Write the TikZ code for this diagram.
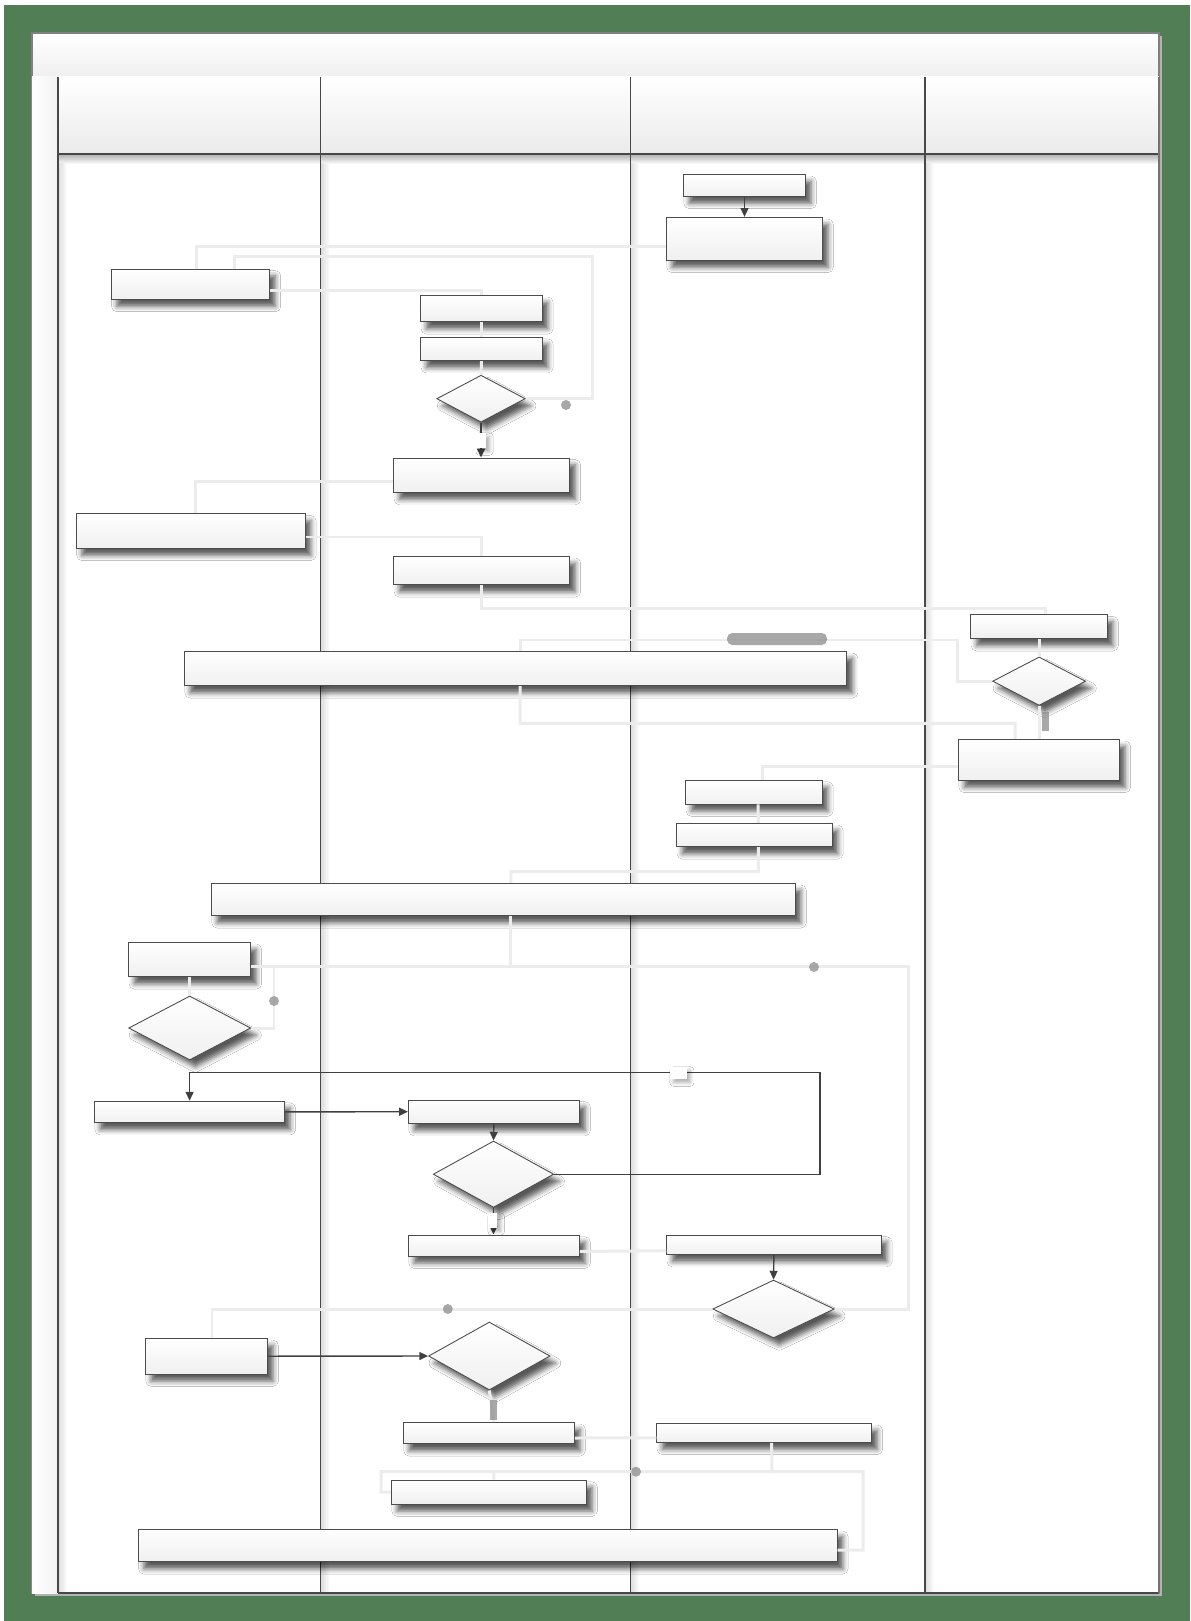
\documentclass[tikz,border=0pt]{standalone}
\usepackage{tikz}
\usetikzlibrary{shapes.geometric, arrows.meta, shadows.blur}

\definecolor{frame}{RGB}{81,126,85}
\definecolor{lane}{RGB}{72,72,72}
\definecolor{wire}{RGB}{236,236,236}

\tikzset{
  sz/.style 2 args={minimum width=#1cm, minimum height=#2cm},
  box/.style={draw=black!70, line width=0.5pt, top color=white, bottom color=black!6, inner sep=0pt,
    blur shadow={shadow xshift=3.2pt, shadow yshift=-4pt, shadow blur radius=3pt, shadow opacity=65}},
  dec/.style={box, diamond},
  flow/.style={draw=black!75, line width=0.8pt, ->},
  faint/.style={draw=wire, line width=1.7pt},
  lbl/.style={fill=white, inner sep=0pt,
    blur shadow={shadow xshift=2pt, shadow yshift=-2pt, shadow blur radius=2pt, shadow opacity=30}},
  blob/.style={fill=black!45, opacity=0.75},
}

\begin{document}
\begin{tikzpicture}[x=0.02cm, y=-0.02cm, >={Triangle[length=5pt,width=4.5pt]}]
\useasboundingbox (0,0) rectangle (1190,1621);

% green frame and white sheet
\fill[frame] (4,5) rectangle (1190,1621);
\fill[black!30] (35,36) rectangle (1162,1596);
\filldraw[fill=white, draw=black!45, line width=0.6pt] (32,33) rectangle (1159,1593);
% title bar
\shade[top color=white, bottom color=black!6] (32,33) rectangle (1159,77);
\draw[black!50, line width=0.6pt] (32,33) rectangle (1159,77);
% left strip
\shade[left color=white, right color=black!5] (32,77) rectangle (58,1593);
% lane headers
\shade[top color=white, bottom color=black!8] (58,77) rectangle (1159,154);
\shade[top color=black!30, bottom color=white] (58,154.5) rectangle (1159,164);
% lane dividers
\foreach \x in {58,320.7,630.2,924.9} {
  \shade[left color=black!13, right color=white] (\x+0.5,164) rectangle (\x+9,1593);
  \draw[lane, line width=0.7pt] (\x,77) -- (\x,1593);
}
\draw[lane, line width=0.7pt] (58,154) -- (1159,154);
\draw[lane, line width=0.7pt] (58,1593) -- (1159,1593);
\draw[black!55, line width=0.7pt] (1159,77) -- (1159,1593);

% lane 3 start
\node[box, sz={2.44}{0.44}] (e1) at (744.5,185.3) {};
\node[box, sz={3.12}{0.86}] (f1) at (744.4,238.8) {};
% first block
\node[box, sz={3.17}{0.61}] (a1) at (190.6,284.2) {};
\node[box, sz={2.43}{0.53}] (b1) at (481.5,308.5) {};
\node[box, sz={2.43}{0.47}] (c1) at (481.5,348.9) {};
\node[dec, sz={1.77}{0.94}] (d1) at (481,398.7) {};
\node[box, sz={3.52}{0.69}] (g1) at (481.8,475.2) {};
\node[box, sz={4.58}{0.69}] (h1) at (190.8,531) {};
\node[box, sz={3.52}{0.57}] (i1) at (481.8,570.5) {};
% lane 4
\node[box, sz={2.73}{0.48}] (k1) at (1039.1,626.7) {};
\node[dec, sz={1.86}{0.97}] (d2) at (1039.1,681.2) {};
\node[box, sz={3.22}{0.82}] (l1) at (1039.1,759.8) {};
\node[box, sz={13.25}{0.69}] (j1) at (515.7,668.5) {};
% back to lane 3
\node[box, sz={2.73}{0.48}] (m1) at (754,792) {};
\node[box, sz={3.11}{0.47}] (n1) at (754.4,835) {};
\node[box, sz={11.68}{0.65}] (o1) at (503.4,899.5) {};
% lower loop
\node[box, sz={2.44}{0.69}] (p1) at (189.7,959.5) {};
\node[dec, sz={2.44}{1.28}] (d3) at (189.7,1028) {};
\node[box, sz={3.80}{0.43}] (q1) at (189.6,1111.9) {};
\node[box, sz={3.42}{0.47}] (r1) at (493.9,1111.7) {};
\node[dec, sz={2.41}{1.33}] (d4) at (493.5,1174.2) {};
\node[box, sz={3.42}{0.42}] (s1) at (493.9,1245.5) {};
\node[box, sz={4.29}{0.39}] (x1) at (773.9,1244.7) {};
\node[dec, sz={2.43}{1.16}] (d6) at (773.5,1309) {};
\node[box, sz={2.44}{0.71}] (t1) at (206.5,1356.2) {};
\node[dec, sz={2.43}{1.36}] (d5) at (489.3,1356) {};
\node[box, sz={3.42}{0.43}] (u1) at (488.9,1433) {};
\node[box, sz={4.30}{0.38}] (y1) at (764.2,1432.8) {};
\node[box, sz={3.90}{0.48}] (v1) at (488.9,1492) {};
\node[box, sz={13.98}{0.65}] (w1) at (487.7,1545.5) {};

% faint connectors
\draw[faint] ([yshift=-0.16cm]f1.west) -| ([xshift=0.11cm]a1.north);
\draw[faint] (d1.east) -- (592,398.7) -- (592,256.7) -| ([xshift=0.87cm]a1.north);
\draw[faint] ([yshift=-0.12cm]a1.east) -| (b1.north);
\draw[faint] (b1.south) -- (c1.north);
\draw[faint] (c1.south) -- (d1.north);
\draw[faint] ([yshift=-0.12cm]g1.west) -| ([xshift=0.1cm]h1.north);
\draw[faint] ([yshift=-0.12cm]h1.east) -| (i1.north);
\draw[faint] (i1.south) -- ++(0,23.6) -| ([xshift=0.12cm]k1.north);
\draw[faint] ([xshift=0.09cm]j1.north) |- (957,640) |- (d2.west);
\draw[faint] (k1.south) -- (d2.north);
\draw[faint] (d2.south) -- (l1.north);
\draw[faint] ([xshift=0.09cm]j1.south) |- (1015,723.3) -- ([xshift=-0.48cm]l1.north);
\draw[faint] ([yshift=-0.14cm]l1.west) -| ([xshift=0.16cm]m1.north);
\draw[faint] ([xshift=0.08cm]m1.south) -- ([xshift=0.08cm]n1.north);
\draw[faint] ([xshift=0.08cm]n1.south) |- (511,871.7) -- ([xshift=0.15cm]o1.north);
\coordinate (j2) at (511,966);
\draw[faint] ([xshift=0.15cm]o1.south) |- ([yshift=-0.13cm]p1.east);
\draw[faint] (d3.east) -| (274,966);
\draw[faint] (p1.south) -- (d3.north);
\draw[faint] (j2) -| (908,1309) -- (d6.east);
\draw[faint] (d6.west) -| ([xshift=0.11cm]t1.north);
\draw[faint] ([yshift=-0.12cm]s1.east) -- ([yshift=-0.12cm]x1.west);
\draw[faint] (d5.south) -- ([xshift=0.1cm]u1.north);
\draw[faint] ([yshift=-0.1cm]u1.east) -- ([yshift=-0.1cm]y1.west);
\coordinate (j3) at (771.8,1471.7);
\draw[faint] ([xshift=0.15cm]y1.south) -- (j3) -- (381,1471.7) |- (v1.west);
\draw[faint] (493.7,1471.7) -- ([xshift=0.1cm]v1.north);
\draw[faint] (j3) -| (863,1550) -- ([yshift=-0.09cm]w1.east);
% shadows of hidden labels
\fill[blob, rounded corners=3pt] (727,633) rectangle (827,645);
\fill[blob] (1042,712) rectangle (1049,731);
\fill[blob] (490,1400) rectangle (497,1420);
\foreach \p in {(274,1001),(814,967),(447.8,1309),(636,1471.7),(566,405)}
  \fill[blob] \p circle (0.1cm);

% dark arrows
\draw[flow] (e1.south) -- (e1.south |- f1.north);
\draw[flow] (d1.south) -- (d1.south |- g1.north);
\draw[flow] (q1.east) -- (r1.west);
\draw[flow] (r1.south) -- (d4.north);
\draw[flow] (d4.east) -| (820,1072.3) -| (q1.north);
\draw[flow] (d4.south) -- (d4.south |- s1.north);
\draw[flow] (x1.south) -- (d6.north);
\draw[flow] (t1.east) -- (d5.west);
% empty labels on the arrows
\node[lbl, sz={0.2}{0.31}] (n2) at (481,440.5) {};
\node[lbl, sz={0.19}{0.3}] (n3) at (492.7,1220.5) {};
\node[lbl, sz={0.34}{0.25}] (n4) at (678.4,1073) {};
\end{tikzpicture}
\end{document}
